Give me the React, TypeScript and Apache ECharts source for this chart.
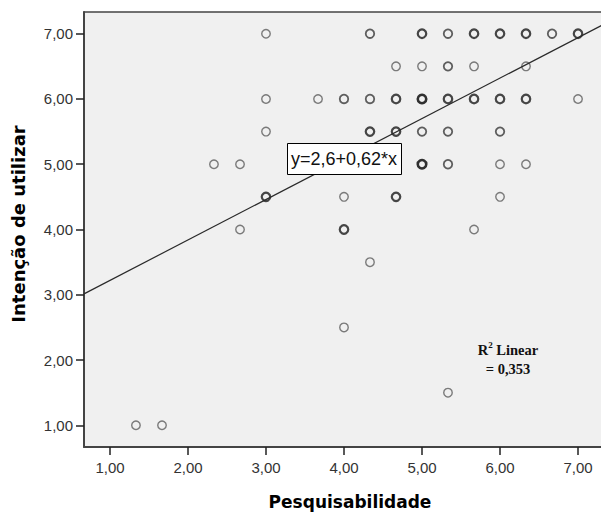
import React, { useEffect, useRef } from "react";
import * as echarts from "echarts";

// Data: Pesquisabilidade (x), Intenção de utilizar (y), number of overlapping cases (n)
const ptX = [
  1.333, 1.667, 2.333, 2.667, 2.667, 3, 3, 3, 3, 3.667,
  4, 4, 4, 4, 4.333, 4.333, 4.333, 4.333, 4.667, 4.667,
  4.667, 4.667, 4.667, 5, 5, 5, 5, 5, 5.333, 5.333,
  5.333, 5.333, 5.333, 5.333, 5.667, 5.667, 5.667, 5.667, 6, 6,
  6, 6, 6, 6.333, 6.333, 6.333, 6.333, 6.667, 7, 7,
];
const ptY = [
  1, 1, 5, 5, 4, 7, 6, 5.5, 4.5, 6,
  6, 4.5, 4, 2.5, 7, 6, 5.5, 3.5, 6.5, 6,
  5.5, 5, 4.5, 7, 6.5, 6, 5.5, 5, 7, 6.5,
  6, 5.5, 5, 1.5, 7, 6.5, 6, 4, 7, 6,
  5.5, 5, 4.5, 7, 6.5, 6, 5, 7, 7, 6,
];
const ptN = [
  1, 1, 1, 1, 1, 1, 1, 1, 3, 1,
  2, 1, 3, 1, 2, 2, 3, 1, 1, 3,
  3, 2, 3, 3, 1, 4, 2, 4, 2, 2,
  3, 2, 2, 1, 3, 1, 3, 1, 3, 3,
  2, 1, 1, 3, 1, 3, 1, 2, 3, 1,
];

const tickValues = [1, 2, 3, 4, 5, 6, 7];
const xMin = 0.667;
const xMax = 7.333;
const yMin = 0.667;
const yMax = 7.333;

const intercept = 2.6;
const slope = 0.62;
const equationText = "y=2,6+0,62*x";
const r2Text = "0,353";

const xTitle = "Pesquisabilidade";
const yTitle = "Intenção de utilizar";

const strokeByCount: Record<number, [string, number]> = {
  1: ["#5c5c5c", 1.4],
  2: ["#383838", 1.8],
  3: ["#1a1a1a", 2.2],
  4: ["#000000", 2.6],
};

export default function App() {
  const ref = useRef<HTMLDivElement>(null);

  useEffect(() => {
    document.body.style.margin = "0";
    if (!ref.current) return;
    const chart = echarts.init(ref.current, null, { renderer: "svg" });

    const scatterData = ptX.map((x, i) => {
      const [c, w] = strokeByCount[ptN[i]];
      return {
        value: [x, ptY[i]],
        itemStyle: { color: "rgba(0,0,0,0)", borderColor: c, borderWidth: w },
      };
    });

    const lineData = [
      [xMin, intercept + slope * xMin],
      [xMax, intercept + slope * xMax],
    ];

    const fmt = (v: number) => v.toFixed(2).replace(".", ",");

    const labelStyle = {
      customValues: tickValues,
      formatter: (v: number) => fmt(v),
      color: "#333333",
      fontFamily: "Liberation Sans, Arial, sans-serif",
      fontSize: 15,
    };
    const tickStyle = {
      show: true,
      length: 8,
      customValues: tickValues,
      lineStyle: { color: "#222222", width: 1.5 },
    };

    chart.setOption({
      animation: false,
      backgroundColor: "#ffffff",
      grid: {
        left: 84,
        top: 12,
        width: 520,
        height: 435,
        outerBoundsMode: "none",
        containLabel: false,
        show: true,
        backgroundColor: "#f0f0f0",
        borderWidth: 0,
      },
      xAxis: [
        {
          type: "value",
          min: xMin,
          max: xMax,
          splitLine: { show: false },
          axisLine: { show: true, onZero: false, lineStyle: { color: "#444444", width: 2 } },
          axisTick: tickStyle,
          axisLabel: { ...labelStyle, margin: 13 },
        },
        {
          type: "value",
          position: "top",
          min: xMin,
          max: xMax,
          splitLine: { show: false },
          axisLine: { show: true, onZero: false, lineStyle: { color: "#444444", width: 1.5 } },
          axisTick: { show: false },
          axisLabel: { show: false },
        },
      ],
      yAxis: {
        type: "value",
        min: yMin,
        max: yMax,
        splitLine: { show: false },
        axisLine: { show: true, onZero: false, lineStyle: { color: "#444444", width: 2 } },
        axisTick: tickStyle,
        axisLabel: { ...labelStyle, margin: 11 },
      },
      series: [
        {
          type: "line",
          data: lineData,
          symbol: "none",
          lineStyle: { color: "#2a2a2a", width: 1.2 },
          z: 3,
          silent: true,
        },
        {
          type: "scatter",
          data: scatterData,
          symbol: "circle",
          symbolSize: 8.5,
          z: 2,
        },
      ],
      graphic: [
        {
          type: "rect",
          z: 100,
          shape: { x: 287.5, y: 143.5, width: 114, height: 31 },
          style: { fill: "#ffffff", stroke: "#000000", lineWidth: 1 },
        },
        {
          type: "text",
          z: 101,
          x: 291,
          y: 159,
          style: {
            text: equationText,
            fontFamily: "Liberation Sans, Arial, sans-serif",
            fontSize: 18,
            fill: "#111111",
            verticalAlign: "middle",
          },
        },
        {
          type: "text",
          z: 100,
          x: 508,
          y: 359,
          style: {
            text: "{b|R}{s|2}{b| Linear}\n{b|= " + r2Text + "}",
            align: "center",
            verticalAlign: "middle",
            rich: {
              b: {
                fontFamily: "Liberation Serif, Times New Roman, serif",
                fontWeight: "bold",
                fontSize: 14.5,
                fill: "#111111",
                lineHeight: 19,
              },
              s: {
                fontFamily: "Liberation Serif, Times New Roman, serif",
                fontWeight: "bold",
                fontSize: 9,
                fill: "#111111",
                verticalAlign: "top",
                lineHeight: 19,
              },
            },
          },
        },
        {
          type: "text",
          x: 350,
          y: 502,
          style: {
            text: xTitle,
            fontFamily: "DejaVu Sans, Verdana, sans-serif",
            fontWeight: "bold",
            fontSize: 17,
            fill: "#000000",
            align: "center",
            verticalAlign: "middle",
          },
        },
        {
          type: "text",
          x: 18,
          y: 224,
          rotation: Math.PI / 2,
          style: {
            text: yTitle,
            fontFamily: "DejaVu Sans, Verdana, sans-serif",
            fontWeight: "bold",
            fontSize: 18,
            fill: "#000000",
            align: "center",
            verticalAlign: "middle",
          },
        },
      ],
    });

    return () => chart.dispose();
  }, []);

  return (
    <div
      ref={ref}
      style={{ position: "absolute", left: 0, top: 0, width: 601, height: 513 }}
    />
  );
}
